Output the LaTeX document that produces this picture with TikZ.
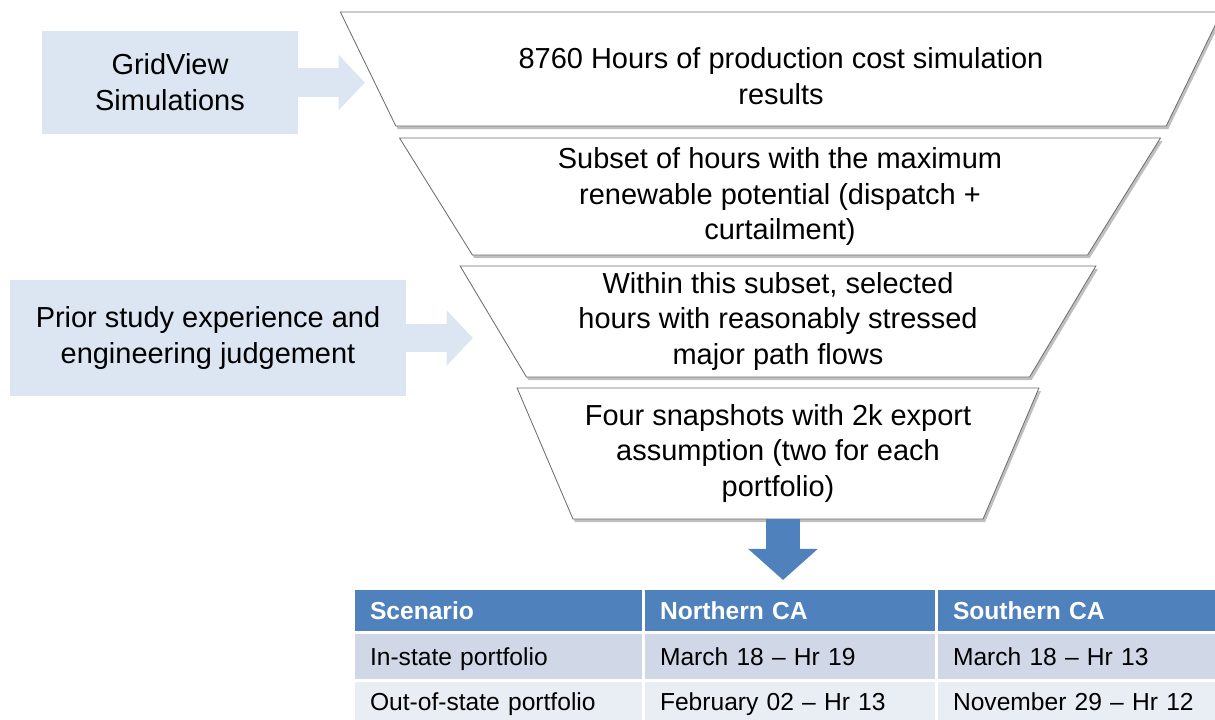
\documentclass[tikz,border=0pt]{standalone}
\usepackage{fontspec}
\setmainfont{Liberation Sans}
\usepackage{tikz}
\usetikzlibrary{shapes.geometric,arrows.meta,positioning,shadows,calc}
\definecolor{inputblue}{RGB}{220, 230, 242}
\definecolor{headblue}{RGB}{79, 129, 189}
\definecolor{rowdark}{RGB}{208, 216, 232}
\definecolor{rowlight}{RGB}{233, 237, 244}
\definecolor{edgegray}{RGB}{110, 110, 110}
\newcommand{\funnelfont}{\fontsize{20.6}{25.6}\selectfont}
\newcommand{\tablefont}{\fontsize{17.5}{21}\selectfont}

\begin{document}
\begin{tikzpicture}[
    % input boxes on the left
    input/.style={rectangle, fill=inputblue, align=center, font=\funnelfont, inner sep=0pt},
    % funnel stages
    funnel/.style={trapezium, shape border rotate=180, trapezium angle=62, trapezium stretches=true, draw=edgegray, line width=0.6pt, fill=white, inner sep=0pt, align=center, font=\funnelfont, drop shadow={shadow xshift=0.05cm, shadow yshift=-0.08cm, fill=black!50, opacity=0.5}},
    % table cells
    cell/.style={rectangle, inner xsep=0.375cm, inner ysep=0pt, align=left, font=\tablefont, text height=12.6pt, text depth=0pt},
    headcell/.style={cell, fill=headblue, text=white, font=\tablefont\bfseries, minimum height=1.025cm},
    darkcell/.style={cell, fill=rowdark, minimum height=1.125cm},
    lightcell/.style={cell, fill=rowlight, minimum height=1.0cm},
    blockarrow/.style={line width=0.72cm, draw=inputblue, -{Triangle[length=0.66cm, width=1.35cm]}},
    downarrow/.style={line width=0.85cm, draw=headblue, -{Triangle[length=0.78cm, width=1.7cm]}}
]
\useasboundingbox (0,0) rectangle (30.375,-17.975);

% Inputs (left)
\node [input, minimum width=6.4cm, minimum height=2.575cm] (gridview) at (4.25,-2.0625) {GridView\\Simulations};
\node [input, minimum width=9.9cm, minimum height=2.9cm] (prior) at (5.2,-8.45) {Prior study experience and\\engineering judgement};

% Funnel stages
\node [funnel, minimum width=22.1cm, minimum height=2.85cm] (hours) at (19.525,-1.725) {\rule{0pt}{1.2em}8760 Hours of production cost simulation\\results};
\node [funnel, minimum width=19.1cm, minimum height=2.925cm] (subset) at (19.5,-4.9125) {Subset of hours with the maximum\\renewable potential (dispatch +\\curtailment)};
\node [funnel, minimum width=15.95cm, minimum height=2.775cm] (stressed) at (19.45,-8.0375) {Within this subset, selected\\hours with reasonably stressed\\major path flows};
\node [funnel, minimum width=13.075cm, minimum height=3.275cm] (snapshots) at (19.45,-11.3375) {Four snapshots with 2k export\\assumption (two for each\\portfolio)};

% Arrow tips
\coordinate (gvtip) at (9.125,-2.05);
\coordinate (prtip) at (11.825,-8.45);
\coordinate (fntip) at (19.575,-14.5);

% Result table: header
\node [headcell, text width=6.425cm] (hscen) at (12.4625,-15.2625) {Scenario};
\node [headcell, text width=6.5cm] (hnorth) at (19.75,-15.2625) {Northern CA};
\node [headcell, text width=6.5cm] (hsouth) at (27.075,-15.2625) {Southern CA};

% Result table: rows
\node [darkcell, text width=6.425cm] (instate) at (12.4625,-16.4125) {In-state portfolio};
\node [darkcell, text width=6.5cm] (innorth) at (19.75,-16.4125) {March 18 -- Hr 19};
\node [darkcell, text width=6.5cm] (insouth) at (27.075,-16.4125) {March 18 -- Hr 13};
\node [lightcell, text width=6.425cm] (outstate) at (12.4625,-17.55) {Out-of-state portfolio};
\node [lightcell, text width=6.5cm] (outnorth) at (19.75,-17.55) {February 02 -- Hr 13};
\node [lightcell, text width=6.5cm] (outsouth) at (27.075,-17.55) {November 29 -- Hr 12};

% Inputs into the funnel
\draw [blockarrow] (gridview.east) -- (gridview.east -| gvtip);
\draw [blockarrow] (prior.east) -- (prior.east -| prtip);

% Funnel to table
\draw [downarrow] (snapshots.south -| fntip) -- (fntip);

\end{tikzpicture}
\end{document}
